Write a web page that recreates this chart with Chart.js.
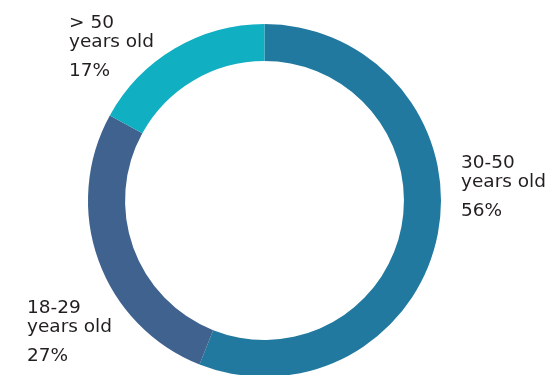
<!DOCTYPE html>
<html lang="en">
<head>
    <meta charset="UTF-8">
    <title>Age distribution</title>
    <script src="https://cdn.jsdelivr.net/npm/chart.js"></script>
    <style>
        html, body {
            margin: 0;
            padding: 0;
            background: #ffffff;
            overflow: hidden;
            width: 550px;
            height: 375px;
        }
        .chart-wrapper {
            position: absolute;
            left: 0;
            top: 0;
            width: 550px;
            height: 402px;
        }
    </style>
</head>
<body>
    <div class="chart-wrapper">
        <canvas id="ageChart"></canvas>
    </div>

    <script>
        // data
        const groups = ['30-50', '18-29', '> 50'];
        const shares = [56, 27, 17];
        const sliceColors = ['#21799f', '#3f628f', '#11afc2'];

        // where each label sits (left x, top line baseline)
        const labelSpots = [
            { x: 461, y: 168 },
            { x: 27, y: 313 },
            { x: 69, y: 28 }
        ];

        const labelPlugin = {
            id: 'ageLabels',
            afterDraw(chart) {
                const ctx = chart.ctx;
                ctx.save();
                ctx.fillStyle = '#231f20';
                ctx.textAlign = 'left';
                ctx.textBaseline = 'alphabetic';
                ctx.font = '18.5px "DejaVu Sans", sans-serif';
                groups.forEach((g, i) => {
                    const p = labelSpots[i];
                    ctx.fillText(g, p.x, p.y);
                    ctx.fillText('years old', p.x, p.y + 19);
                    ctx.fillText(shares[i] + '%', p.x, p.y + 48);
                });
                ctx.restore();
            }
        };

        new Chart(document.getElementById('ageChart'), {
            type: 'doughnut',
            data: {
                labels: groups,
                datasets: [{
                    data: shares,
                    backgroundColor: sliceColors,
                    borderWidth: 0
                }]
            },
            options: {
                responsive: true,
                maintainAspectRatio: false,
                animation: false,
                cutout: '79%',
                layout: {
                    padding: { left: 88, right: 109, top: 24, bottom: 25 }
                },
                plugins: {
                    legend: { display: false },
                    tooltip: { enabled: false }
                }
            },
            plugins: [labelPlugin]
        });
    </script>
</body>
</html>
